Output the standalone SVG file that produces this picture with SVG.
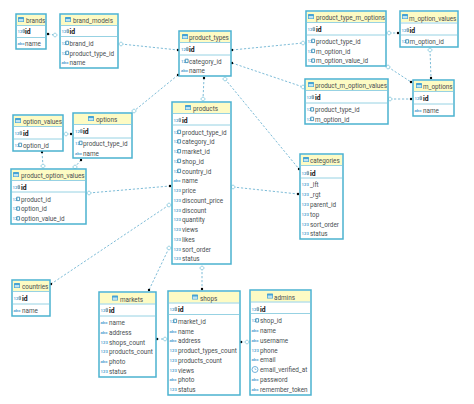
<svg xmlns="http://www.w3.org/2000/svg" width="474" height="404" viewBox="0 0 474 404">
<style>
text{font-family:Roboto,"Liberation Sans",sans-serif;font-size:6.35px;fill:#4a4f52}
.b{fill:#fff;stroke:#4bb2cf;stroke-width:1.5}
.h{fill:#fdfbc4}
.s{stroke:#7cc6dc;stroke-width:.8;fill:none}
.id{font-weight:700;fill:#111;font-size:6.8px}
.n{font-size:4.3px;fill:#3f97cc;font-weight:500}
.c{fill:none;stroke:#6fb4d2;stroke-width:.9;stroke-dasharray:2.2 1.8}
.d{fill:#000}
.o{fill:#fff;stroke:#6fbdd6;stroke-width:.7}
.t{fill:#47a3d3}
</style>
<defs>
<g id="tb"><rect width="6" height="5" rx=".6" class="t"/><rect x=".7" y="2" width="4.6" height="2.4" fill="#bfe3f2"/></g>
<g id="r"><text class="n" x="0" y="1.5">123</text></g>
<g id="a"><text class="n" x="0" y="1.5">abc</text></g>
<g id="p"><text class="n" x="0" y="1.5">123</text><path d="M5.6 -1.6h1.5v3.2h-1.5z" fill="none" stroke="#7f8f98" stroke-width=".7"/></g>
<g id="f"><text class="n" x="0" y="1.5">12</text><path d="M4.2 -1.8h2.9v3.4h-2.9z" fill="none" stroke="#3f8fb8" stroke-width=".9"/></g>
<g id="cl"><circle cx="3" cy="0" r="3" fill="none" stroke="#4f9fd0" stroke-width=".8"/><path d="M3 -1.6v1.6h1.4" fill="none" stroke="#4f9fd0" stroke-width=".5"/></g>
<path id="dm" d="M-2.4 0L0 -2.2L2.4 0L0 2.2Z" class="o"/>
</defs>
<g id="connectors">
<path class="c" d="M48 34L55 35"/>
<path class="c" d="M121 44L178 50"/>
<path class="c" d="M178 75L134 111"/>
<path class="c" d="M232 50L303 43"/>
<path class="c" d="M232 63L303 87"/>
<path class="c" d="M204 78L203 99"/>
<path class="c" d="M225 79L299 169"/>
<path class="c" d="M389 33L398 33"/>
<path class="c" d="M388 67L411 82"/>
<path class="c" d="M390 99L411 99"/>
<path class="c" d="M430 50L431 78"/>
<path class="c" d="M66 134L71 134"/>
<path class="c" d="M42 152L43 166"/>
<path class="c" d="M81 160L75 167"/>
<path class="c" d="M89 193L170 186"/>
<path class="c" d="M169 205L51 284"/>
<path class="c" d="M169 248L149 290"/>
<path class="c" d="M233 187L298 194"/>
<path class="c" d="M202 268L202 289"/>
<path class="c" d="M157 339L165 339"/>
<path class="c" d="M241 342L247 342"/>
<g id="ends">
<circle class="d" cx="48" cy="34" r="1.2"/><use href="#dm" x="55" y="35"/>
<circle class="d" cx="178" cy="50" r="1.2"/><use href="#dm" x="121" y="44"/>
<circle class="d" cx="178" cy="75" r="1.2"/><use href="#dm" x="134" y="111"/>
<circle class="d" cx="232" cy="50" r="1.2"/><use href="#dm" x="303" y="43"/>
<circle class="d" cx="232" cy="63" r="1.2"/><use href="#dm" x="303" y="87"/>
<circle class="d" cx="204" cy="78" r="1.2"/><use href="#dm" x="203" y="99"/>
<circle class="d" cx="299" cy="169" r="1.2"/><use href="#dm" x="225" y="79"/>
<circle class="d" cx="398" cy="33" r="1.2"/><use href="#dm" x="389" y="33"/>
<circle class="d" cx="411" cy="82" r="1.2"/><use href="#dm" x="388" y="67"/>
<circle class="d" cx="411" cy="99" r="1.2"/><use href="#dm" x="390" y="99"/>
<circle class="d" cx="431" cy="78" r="1.2"/><use href="#dm" x="430" y="50"/>
<circle class="d" cx="71" cy="134" r="1.2"/><use href="#dm" x="66" y="134"/>
<circle class="d" cx="42" cy="152" r="1.2"/><use href="#dm" x="43" y="166"/>
<circle class="d" cx="81" cy="160" r="1.2"/><use href="#dm" x="75" y="167"/>
<circle class="d" cx="170" cy="186" r="1.2"/><use href="#dm" x="89" y="193"/>
<circle class="d" cx="51" cy="284" r="1.2"/><use href="#dm" x="169" y="205"/>
<circle class="d" cx="149" cy="290" r="1.2"/><use href="#dm" x="169" y="248"/>
<circle class="d" cx="298" cy="194" r="1.2"/><use href="#dm" x="233" y="187"/>
<circle class="d" cx="202" cy="289" r="1.2"/><use href="#dm" x="202" y="268"/>
<circle class="d" cx="157" cy="339" r="1.2"/><use href="#dm" x="165" y="339"/>
<circle class="d" cx="241" cy="342" r="1.2"/><use href="#dm" x="247" y="342"/>
</g>
</g>
<g id="brands"><rect class="b" x="16" y="14" width="30" height="35"/><rect class="h" x="17" y="15" width="28" height="10"/><path class="s" d="M16 25.5H46M16 37.5H46"/><use href="#tb" x="18" y="17"/><text x="26" y="22.5">brands</text>
<use href="#p" x="17.5" y="31"/><text class="id" x="25" y="33.5">id</text><use href="#a" x="17.5" y="43"/><text x="25" y="45.5">name</text></g>
<g id="brand_models"><rect class="b" x="60" y="14" width="58" height="54"/><rect class="h" x="61" y="15" width="56" height="10"/><path class="s" d="M60 25.5H118M60 36.5H118"/><use href="#tb" x="65" y="17"/><text x="73" y="22.5">brand_models</text>
<use href="#p" x="61.5" y="31"/><text class="id" x="69.5" y="33.5">id</text><use href="#f" x="61.5" y="43"/><text x="69.5" y="45.5">brand_id</text><use href="#f" x="61.5" y="53"/><text x="69.5" y="55.5">product_type_id</text><use href="#a" x="61.5" y="62.5"/><text x="69.5" y="65">name</text></g>
<g id="product_types"><rect class="b" x="179" y="31" width="52" height="45"/><rect class="h" x="180" y="32" width="50" height="10"/><path class="s" d="M179 42.5H231M179 55H231"/><use href="#tb" x="182" y="34"/><text x="189" y="40">product_types</text>
<use href="#p" x="181" y="49"/><text class="id" x="189" y="51.5">id</text><use href="#f" x="181" y="61"/><text x="189" y="63.5">category_id</text><use href="#a" x="181" y="70.5"/><text x="189" y="73">name</text></g>
<g id="products"><rect class="b" x="172" y="102" width="59" height="162"/><rect class="h" x="173" y="103" width="57" height="10"/><path class="s" d="M172 113.5H231M172 125H231"/><use href="#tb" x="185" y="105"/><text x="193" y="111">products</text>
<use href="#p" x="173.5" y="120"/><text class="id" x="182" y="122.5">id</text>
<use href="#f" x="173.5" y="132"/><text x="182" y="134.5">product_type_id</text>
<use href="#f" x="173.5" y="141.5"/><text x="182" y="144">category_id</text>
<use href="#f" x="173.5" y="151.3"/><text x="182" y="153.8">market_id</text>
<use href="#f" x="173.5" y="161"/><text x="182" y="163.5">shop_id</text>
<use href="#f" x="173.5" y="171"/><text x="182" y="173.5">country_id</text>
<use href="#a" x="173.5" y="180.5"/><text x="182" y="183">name</text>
<use href="#r" x="173.5" y="190.3"/><text x="182" y="192.8">price</text>
<use href="#r" x="173.5" y="200.2"/><text x="182" y="202.7">discount_price</text>
<use href="#r" x="173.5" y="210"/><text x="182" y="212.5">discount</text>
<use href="#r" x="173.5" y="219.7"/><text x="182" y="222.2">quantity</text>
<use href="#r" x="173.5" y="229.6"/><text x="182" y="232.1">views</text>
<use href="#r" x="173.5" y="239.3"/><text x="182" y="241.8">likes</text>
<use href="#r" x="173.5" y="249"/><text x="182" y="251.5">sort_order</text>
<use href="#r" x="173.5" y="258.7"/><text x="182" y="261.2">status</text></g>
<g id="product_type_m_options"><rect class="b" x="306" y="11" width="80" height="55"/><rect class="h" x="307" y="12" width="78" height="10"/><path class="s" d="M306 22.5H386M306 35H386"/><use href="#tb" x="308" y="14"/><text x="316" y="20">product_type_m_options</text>
<use href="#p" x="307.5" y="29"/><text class="id" x="316" y="31.5">id</text><use href="#f" x="307.5" y="41"/><text x="316" y="43.5">product_type_id</text><use href="#f" x="307.5" y="51"/><text x="316" y="53.5">m_option_id</text><use href="#f" x="307.5" y="60.7"/><text x="316" y="63.2">m_option_value_id</text></g>
<g id="m_option_values"><rect class="b" x="400" y="11" width="58" height="36"/><rect class="h" x="401" y="12" width="56" height="10"/><path class="s" d="M400 23H458M400 35H458"/><use href="#tb" x="402" y="14"/><text x="409" y="20.5">m_option_values</text>
<use href="#p" x="401.5" y="30"/><text class="id" x="409.5" y="32.5">id</text><use href="#f" x="401.5" y="41.5"/><text x="409.5" y="44">m_option_id</text></g>
<g id="m_options"><rect class="b" x="413" y="80" width="41" height="36"/><rect class="h" x="414" y="81" width="39" height="10"/><path class="s" d="M413 91.5H454M413 104H454"/><use href="#tb" x="416" y="83"/><text x="423" y="89">m_options</text>
<use href="#p" x="414.5" y="98"/><text class="id" x="423" y="100.5">id</text><use href="#a" x="414.5" y="110"/><text x="423" y="112.5">name</text></g>
<g id="product_m_option_values"><rect class="b" x="305" y="79" width="83" height="45"/><rect class="h" x="306" y="80" width="81" height="10"/><path class="s" d="M305 90.5H388M305 103H388"/><use href="#tb" x="308" y="82"/><text x="315" y="88">product_m_option_values</text>
<use href="#p" x="306.5" y="97"/><text class="id" x="315" y="99.5">id</text><use href="#f" x="306.5" y="109.5"/><text x="315" y="112">product_type_id</text><use href="#f" x="306.5" y="119"/><text x="315" y="121.5">m_option_id</text></g>
<g id="option_values"><rect class="b" x="13" y="115" width="50" height="36"/><rect class="h" x="14" y="116" width="48" height="10"/><path class="s" d="M13 126.5H63M13 139H63"/><use href="#tb" x="15" y="118"/><text x="23" y="124">option_values</text>
<use href="#p" x="14.5" y="133"/><text class="id" x="23" y="135.5">id</text><use href="#f" x="14.5" y="145"/><text x="23" y="147.5">option_id</text></g>
<g id="options"><rect class="b" x="73" y="113" width="59" height="45"/><rect class="h" x="74" y="114" width="57" height="10"/><path class="s" d="M73 124.5H132M73 138H132"/><use href="#tb" x="88" y="116"/><text x="96" y="122">options</text>
<use href="#p" x="75" y="131"/><text class="id" x="83" y="133.5">id</text><use href="#f" x="75" y="143"/><text x="83" y="145.5">product_type_id</text><use href="#a" x="75" y="153"/><text x="83" y="155.5">name</text></g>
<g id="product_option_values"><rect class="b" x="11" y="169" width="75" height="55"/><rect class="h" x="12" y="170" width="73" height="10"/><path class="s" d="M11 180.5H86M11 192H86"/><use href="#tb" x="13" y="172"/><text x="21" y="178">product_option_values</text>
<use href="#p" x="12.5" y="187"/><text class="id" x="21" y="189.5">id</text><use href="#f" x="12.5" y="199"/><text x="21" y="201.5">product_id</text><use href="#f" x="12.5" y="208.7"/><text x="21" y="211.2">option_id</text><use href="#f" x="12.5" y="218.5"/><text x="21" y="221">option_value_id</text></g>
<g id="categories"><rect class="b" x="300" y="154" width="43" height="85"/><rect class="h" x="301" y="155" width="41" height="10"/><path class="s" d="M300 165.5H343M300 178H343"/><use href="#tb" x="303" y="157"/><text x="310" y="163">categories</text>
<use href="#p" x="301.5" y="173"/><text class="id" x="310" y="175.5">id</text><use href="#r" x="301.5" y="184.5"/><text x="310" y="187">_lft</text><use href="#r" x="301.5" y="194.5"/><text x="310" y="197">_rgt</text><use href="#r" x="301.5" y="204.3"/><text x="310" y="206.8">parent_id</text><use href="#r" x="301.5" y="214"/><text x="310" y="216.5">top</text><use href="#r" x="301.5" y="224"/><text x="310" y="226.5">sort_order</text><use href="#r" x="301.5" y="233.7"/><text x="310" y="236.2">status</text></g>
<g id="countries"><rect class="b" x="12" y="280" width="38" height="36"/><rect class="h" x="13" y="281" width="36" height="10"/><path class="s" d="M12 291.5H50M12 304H50"/><use href="#tb" x="14" y="283"/><text x="22" y="289">countries</text>
<use href="#p" x="13.5" y="298"/><text class="id" x="22" y="300.5">id</text><use href="#a" x="13.5" y="310"/><text x="22" y="312.5">name</text></g>
<g id="markets"><rect class="b" x="99" y="292" width="57" height="85"/><rect class="h" x="100" y="293" width="55" height="10.5"/><path class="s" d="M99 304H156M99 316H156"/><use href="#tb" x="112" y="295.5"/><text x="120" y="301.5">markets</text>
<use href="#p" x="100.5" y="310"/><text class="id" x="109" y="312.5">id</text><use href="#a" x="100.5" y="322.5"/><text x="109" y="325">name</text><use href="#a" x="100.5" y="332"/><text x="109" y="334.5">address</text><use href="#r" x="100.5" y="342"/><text x="109" y="344.5">shops_count</text><use href="#r" x="100.5" y="351.5"/><text x="109" y="354">products_count</text><use href="#a" x="100.5" y="361.3"/><text x="109" y="363.8">photo</text><use href="#r" x="100.5" y="371"/><text x="109" y="373.5">status</text></g>
<g id="shops"><rect class="b" x="168" y="291" width="72" height="104"/><rect class="h" x="169" y="292" width="70" height="10.5"/><path class="s" d="M168 303H240M168 314.5H240"/><use href="#tb" x="192" y="294.5"/><text x="200" y="300.5">shops</text>
<use href="#p" x="169.5" y="309"/><text class="id" x="178" y="311.5">id</text><use href="#f" x="169.5" y="321"/><text x="178" y="323.5">market_id</text><use href="#a" x="169.5" y="331"/><text x="178" y="333.5">name</text><use href="#a" x="169.5" y="340.5"/><text x="178" y="343">address</text><use href="#r" x="169.5" y="350.5"/><text x="178" y="353">product_types_count</text><use href="#r" x="169.5" y="360"/><text x="178" y="362.5">products_count</text><use href="#r" x="169.5" y="370"/><text x="178" y="372.5">views</text><use href="#a" x="169.5" y="379.5"/><text x="178" y="382">photo</text><use href="#r" x="169.5" y="389.5"/><text x="178" y="392">status</text></g>
<g id="admins"><rect class="b" x="250" y="290" width="61" height="105"/><rect class="h" x="251" y="291" width="59" height="10.5"/><path class="s" d="M250 302H311M250 313.5H311"/><use href="#tb" x="267" y="293.5"/><text x="274" y="299.5">admins</text>
<use href="#p" x="251.5" y="309"/><text class="id" x="260" y="311.5">id</text><use href="#f" x="251.5" y="320.5"/><text x="260" y="323">shop_id</text><use href="#a" x="251.5" y="330.5"/><text x="260" y="333">name</text><use href="#a" x="251.5" y="340"/><text x="260" y="342.5">username</text><use href="#r" x="251.5" y="350"/><text x="260" y="352.5">phone</text><use href="#a" x="251.5" y="359.5"/><text x="260" y="362">email</text><use href="#cl" x="252" y="369.5"/><text x="260" y="372">email_verified_at</text><use href="#a" x="251.5" y="379"/><text x="260" y="381.5">password</text><use href="#a" x="251.5" y="389"/><text x="260" y="391.5">remember_token</text></g>
</svg>
